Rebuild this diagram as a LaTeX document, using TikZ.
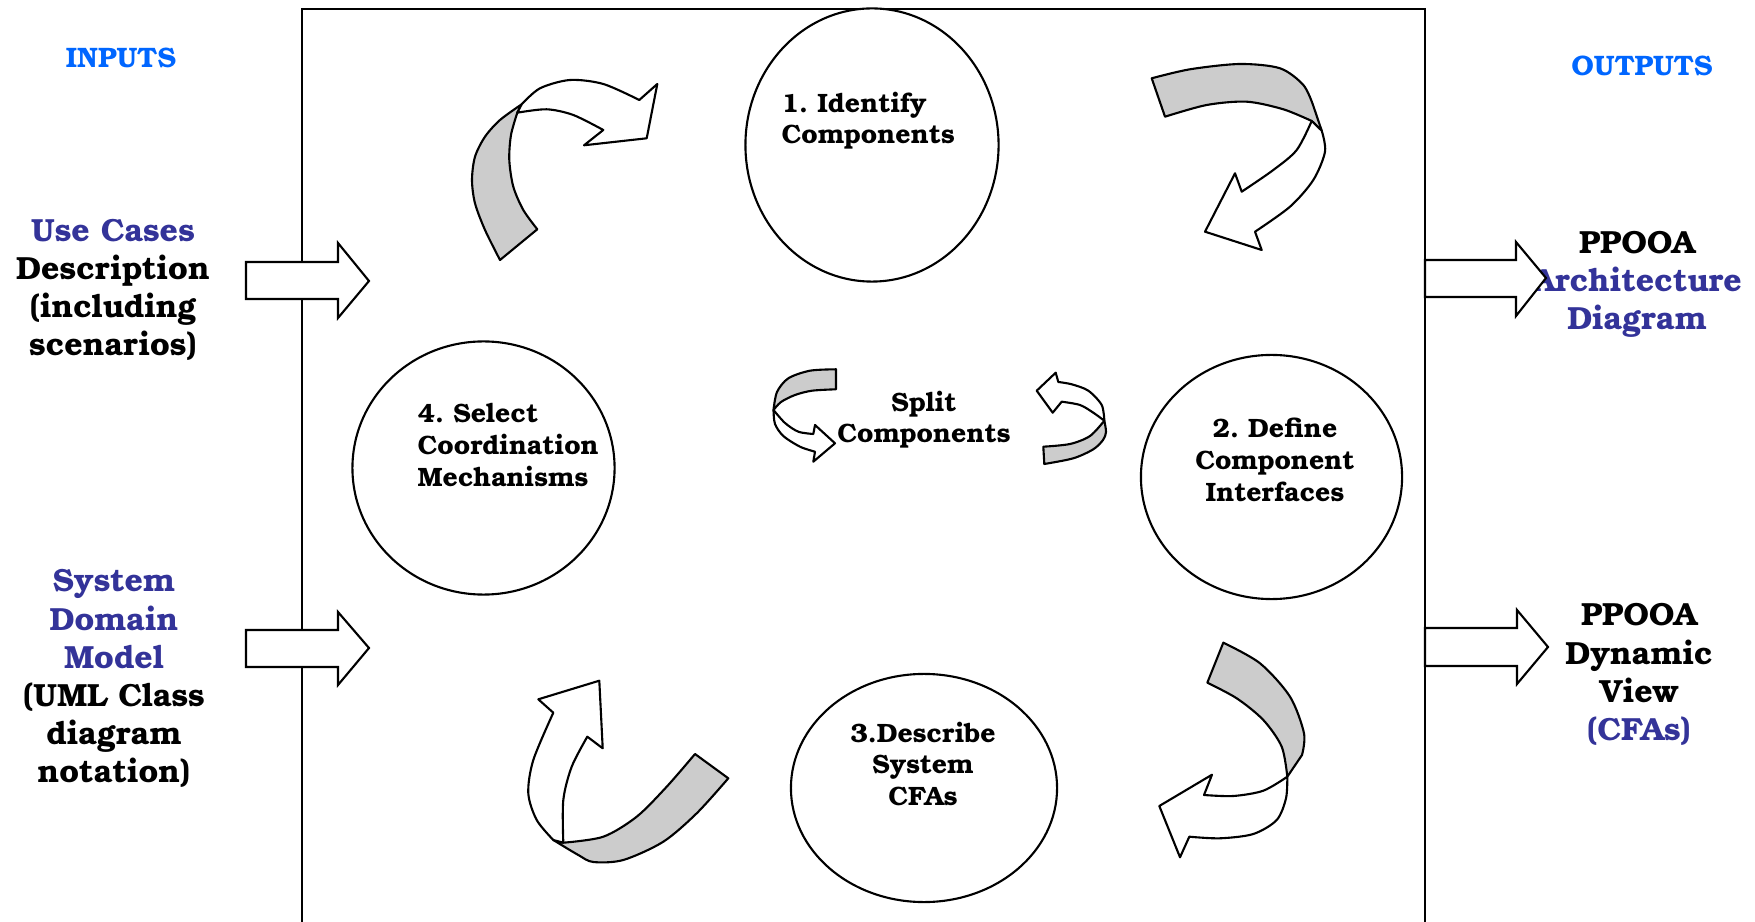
\documentclass[tikz,border=0pt]{standalone}
\usepackage{fontspec}
\usetikzlibrary{shapes.geometric}
\newfontfamily\bkfont{texgyrebonum-bold.otf}
\definecolor{headblue}{RGB}{0,102,255}
\definecolor{labelblue}{RGB}{51,51,153}
\definecolor{ribbongray}{RGB}{204,204,204}

\begin{document}
\frenchspacing
\begin{tikzpicture}[x=0.01cm,y=-0.01cm,
  side/.style={font=\bkfont\fontsize{9.1}{10.8}\selectfont\frenchspacing, anchor=base, inner sep=0pt},
  title/.style={font=\bkfont\fontsize{8}{9.6}\selectfont\frenchspacing, text=headblue, anchor=base, inner sep=0pt},
  steptext/.style={font=\bkfont\fontsize{7.55}{8.8}\selectfont\frenchspacing, anchor=base, inner sep=0pt},
  stepleft/.style={steptext, anchor=base west},
  phase/.style={ellipse, draw, line width=0.6pt, inner sep=0pt, fill=white},
  blockarrow/.style={draw, fill=white, line width=0.6pt, line join=miter},
  back/.style={draw, fill=ribbongray, line width=0.6pt, line join=round},
  front/.style={draw, fill=white, line width=0.6pt, line join=round},
]
\useasboundingbox (0,0) rectangle (1755,922);
\clip (0,0) rectangle (1755,922);

% process frame (open at the bottom)
\draw[line width=0.8pt] (302,960) -- (302,9) -- (1425,9) -- (1425,960);

% the four process steps
\node[phase, minimum width=2.53cm, minimum height=2.73cm] (identify) at (872,145) {};
\node[phase, minimum width=2.62cm, minimum height=2.53cm] (select)   at (483.5,468) {};
\node[phase, minimum width=2.61cm, minimum height=2.44cm] (define)   at (1271.5,477) {};
\node[phase, minimum width=2.66cm, minimum height=2.28cm] (describe) at (924,788) {};

% curved ribbon arrow: step 4 -> step 1
\filldraw[back] (500,260) -- plot[smooth] coordinates {(500,260) (485,230) (475,203.3) (472,180) (475,156.7) (485,136.7) (500,120) (521.7,104.3)}
  -- (517.3,112.7) -- plot[smooth] coordinates {(517.3,112.7) (511,135) (509.3,160) (513.3,186.7) (523.3,210) (537.3,229.3)} -- cycle;
\filldraw[front] (521.7,104.3) -- plot[smooth] coordinates {(521.7,104.3) (540,88.3) (570,80) (603.3,84) (639.3,100)}
  -- (657.3,84) -- (646.7,138.3) -- (584,145.3) -- (603.3,130)
  -- plot[smooth] coordinates {(603.3,130) (573.3,115) (546.7,109.3) (517.3,112.7)} -- cycle;

% curved ribbon arrow: step 1 -> step 2
\filldraw[back] (1151.7,78.3) -- plot[smooth] coordinates {(1151.7,78.3) (1190,69.3) (1240,64) (1280,68.3) (1303.3,85) (1313,105)}
  -- (1321.7,130.7) -- (1311.7,121)
  -- plot[smooth] coordinates {(1311.7,121) (1283.3,109.3) (1246.7,101.7) (1206.7,105) (1165,116.7)} -- cycle;
\filldraw[front] (1321.7,130.7) -- plot[smooth] coordinates {(1321.7,130.7) (1325,151.7) (1313.3,180) (1290,206.7) (1255,231.7)}
  -- (1261.7,250) -- (1205,231.7) -- (1235,173.3) -- (1241.7,191.7)
  -- plot[smooth] coordinates {(1241.7,191.7) (1273.3,170) (1296.7,150) (1311.7,121)} -- cycle;

% curved ribbon arrow: step 2 -> step 3
\filldraw[back] (1223.3,642.7) -- plot[smooth] coordinates {(1223.3,642.7) (1260,663.3) (1290,696.7) (1304,733.3) (1302,755)}
  -- (1287.3,776.7)
  -- plot[smooth] coordinates {(1287.3,776.7) (1281.7,746.7) (1263.3,720) (1236.7,698.3) (1207.3,682.7)} -- cycle;
\filldraw[front] (1287.3,776.7) -- plot[smooth] coordinates {(1287.3,776.7) (1286,798.3) (1276.7,820) (1253.3,834) (1220,838.3) (1189.3,836.7)}
  -- (1180,857.3) -- (1159.3,806) -- (1212,774.7) -- (1204,795)
  -- plot[smooth] coordinates {(1204,795) (1233.3,796) (1263.3,790.7) (1287.3,776.7)} -- cycle;

% curved ribbon arrow: step 3 -> step 4
\filldraw[back] (695,754) -- plot[smooth] coordinates {(695,754) (666.7,786.7) (636.7,816.7) (603.3,836.7) (563.3,842.7)}
  -- (553.3,840)
  -- plot[smooth] coordinates {(553.3,840) (578.3,855) (593.3,862) (623.3,860) (663.3,841.7) (696.7,813.3) (728.3,778.3)} -- cycle;
\filldraw[front] (553.3,840) -- plot[smooth] coordinates {(553.3,840) (536.7,820) (528.3,793.3) (533.3,760) (553.3,712.7)}
  -- (538.3,699.3) -- (599.3,680.7) -- (602.7,748.3) -- (587.3,736.7)
  -- plot[smooth] coordinates {(587.3,736.7) (571.7,766.7) (563.3,800) (563.3,842.7)} -- cycle;

% small ribbon arrows around "Split Components"
\filldraw[back] (836,369.3) -- plot[smooth] coordinates {(836,369.3) (810,370.7) (788.3,378.3) (777,392) (773.5,410)}
  -- plot[smooth] coordinates {(773.5,410) (781,402) (795,395) (812,390.7) (836,389.3)} -- cycle;
\filldraw[front] (773.5,410) -- plot[smooth] coordinates {(773.5,410) (775,424) (783.3,436) (800,446.7) (815,451.7)}
  -- (813.3,461.7) -- (835,443.3) -- (815,425) -- (813.3,434)
  -- plot[smooth] coordinates {(813.3,434) (798.3,431.7) (785,423) (773.5,410)} -- cycle;

\filldraw[back] (1043.3,446.7) -- plot[smooth] coordinates {(1043.3,446.7) (1070,444) (1090,436) (1104.3,420.7)}
  -- plot[smooth] coordinates {(1104.3,420.7) (1106,432) (1103,440) (1093.3,449.3) (1073.3,458.3) (1044.3,464)} -- cycle;
\filldraw[front] (1104.3,420.7) -- plot[smooth] coordinates {(1104.3,420.7) (1101.7,405) (1088.3,390.7) (1071.7,384.3) (1058.3,382)}
  -- (1055.7,372.7) -- (1036.7,390.7) -- (1052.7,412.7) -- (1061.7,401.7)
  -- plot[smooth] coordinates {(1061.7,401.7) (1080,405) (1093.3,412.7) (1104.3,420.7)} -- cycle;

% step labels
\node[stepleft] (s1a) at (781,113) {1. Identify};
\node[stepleft] (s1b) at (781,144) {Components};
\node[stepleft] (s4a) at (417,423) {4. Select};
\node[stepleft] (s4b) at (417,455) {Coordination};
\node[stepleft] (s4c) at (417,487) {Mechanisms};
\node[steptext] (s2a) at (1275,438) {2. Define};
\node[steptext] (s2b) at (1275,470) {Component};
\node[steptext] (s2c) at (1275,502) {Interfaces};
\node[steptext] (s3a) at (923,742) {3.Describe};
\node[steptext] (s3b) at (923,773) {System};
\node[steptext] (s3c) at (923,805) {CFAs};
\node[steptext] (sp1) at (924,412) {Split};
\node[steptext] (sp2) at (924,443) {Components};

% inputs
\node[title] (inputs) at (121,68) {INPUTS};
\node[side, text=labelblue] (uc1) at (113,242) {Use Cases};
\node[side] (uc2) at (113,280) {Description};
\node[side] (uc3) at (113,318) {(including};
\node[side] (uc4) at (113,356) {scenarios)};
\node[side, text=labelblue] (dm1) at (114,592) {System};
\node[side, text=labelblue] (dm2) at (114,630) {Domain};
\node[side, text=labelblue] (dm3) at (114,668) {Model};
\node[side] (dm4) at (114,706) {(UML Class};
\node[side] (dm5) at (114,744) {diagram};
\node[side] (dm6) at (114,782) {notation)};

% outputs
\node[title] (outputs) at (1642,76) {OUTPUTS};
\node[side] (ad1) at (1637,254) {PPOOA};
\node[side, text=labelblue] (ad2) at (1637,292) {Architecture};
\node[side, text=labelblue] (ad3) at (1637,330) {Diagram};
\node[side] (dv1) at (1639,626) {PPOOA};
\node[side] (dv2) at (1639,664) {Dynamic};
\node[side] (dv3) at (1639,702) {View};
\node[side, text=labelblue] (dv4) at (1639,740) {(CFAs)};

% block arrows into and out of the process
\draw[blockarrow] (246,262) -- (338,262) -- (338,243) -- (369,281) -- (338,318) -- (338,299) -- (246,299) -- cycle;
\draw[blockarrow] (246,630) -- (338,630) -- (338,612) -- (369,648) -- (338,685) -- (338,667) -- (246,667) -- cycle;
\draw[blockarrow] (1425,260) -- (1516,260) -- (1516,242) -- (1546,278) -- (1516,316) -- (1516,297) -- (1425,297) -- cycle;
\draw[blockarrow] (1425,628) -- (1517,628) -- (1517,610) -- (1548,647) -- (1517,684) -- (1517,666) -- (1425,666) -- cycle;
\end{tikzpicture}
\end{document}
